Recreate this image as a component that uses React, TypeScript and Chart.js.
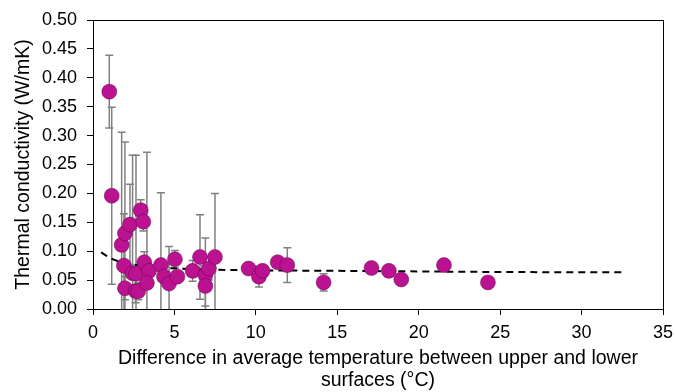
import React, { useEffect, useRef } from "react";
import { Chart, registerables } from "chart.js";

Chart.register(...registerables);

const tempDiff = [1.0, 1.15, 1.76, 1.96, 2.27, 1.9, 1.96, 2.43, 2.64, 2.62, 2.78, 2.93, 3.09, 3.15, 3.44, 3.31, 4.17, 4.36, 4.67, 5.03, 5.18, 6.12, 6.57, 6.9, 6.9, 7.12, 7.49, 9.55, 10.19, 10.41, 11.34, 11.93, 14.16, 17.1, 18.17, 18.93, 21.55, 24.25];
const conductivity = [0.376, 0.196, 0.111, 0.131, 0.146, 0.075, 0.036, 0.062, 0.061, 0.031, 0.031, 0.171, 0.151, 0.081, 0.066, 0.045, 0.076, 0.056, 0.044, 0.086, 0.056, 0.066, 0.09, 0.059, 0.04, 0.07, 0.09, 0.07, 0.056, 0.066, 0.081, 0.076, 0.046, 0.071, 0.066, 0.051, 0.076, 0.046];
const errors = [0.063, 0.153, 0.195, 0.158, 0.07, 0.09, 0.02, 0.204, 0.205, 0.02, 0.015, 0.018, 0.016, 0.018, 0.01, 0.226, 0.125, 0.01, 0.064, 0.015, 0.01, 0.018, 0.073, 0.064, 0.035, 0.02, 0.11, 0, 0.018, 0, 0, 0.03, 0.015, 0, 0, 0, 0, 0];

const trendX = [0.5, 1, 1.5, 2.5, 4, 6, 10, 15, 20, 25, 32.7];
const trendY = [0.098, 0.089, 0.083, 0.077, 0.072, 0.069, 0.067, 0.066, 0.065, 0.064, 0.0635];

const yTicks = [0, 0.05, 0.1, 0.15, 0.2, 0.25, 0.3, 0.35, 0.4, 0.45, 0.5];
const xTicks = [0, 5, 10, 15, 20, 25, 30, 35];

const FONT = "'Liberation Sans', Arial, sans-serif";

const errorBarPlugin = {
  id: "errorBars",
  beforeDatasetsDraw(chart: any) {
    const { ctx, chartArea, scales } = chart;
    const xs = scales.x;
    const ys = scales.y;
    ctx.save();
    ctx.beginPath();
    ctx.rect(chartArea.left, chartArea.top, chartArea.right - chartArea.left, chartArea.bottom - chartArea.top);
    ctx.clip();
    ctx.strokeStyle = "#808080";
    ctx.lineWidth = 1.5;
    for (let i = 0; i < tempDiff.length; i++) {
      const e = errors[i];
      if (!e) continue;
      const px = xs.getPixelForValue(tempDiff[i]);
      const top = ys.getPixelForValue(conductivity[i] + e);
      const bot = ys.getPixelForValue(conductivity[i] - e);
      ctx.beginPath();
      ctx.moveTo(px, top);
      ctx.lineTo(px, bot);
      ctx.moveTo(px - 4, top);
      ctx.lineTo(px + 4, top);
      ctx.moveTo(px - 4, bot);
      ctx.lineTo(px + 4, bot);
      ctx.stroke();
    }
    ctx.restore();
  },
};

const boxPlugin = {
  id: "box",
  afterDraw(chart: any) {
    const { ctx, chartArea } = chart;
    ctx.save();
    ctx.strokeStyle = "#000";
    ctx.lineWidth = 1;
    ctx.strokeRect(Math.round(chartArea.left) + 0.5, Math.round(chartArea.top) + 0.5, Math.round(chartArea.right - chartArea.left), Math.round(chartArea.bottom - chartArea.top));
    ctx.restore();
  },
};

export default function App() {
  const ref = useRef<HTMLCanvasElement>(null);
  useEffect(() => {
    document.body.style.margin = "0";
    const scatter = tempDiff.map((x, i) => ({ x, y: conductivity[i] }));
    const trend = trendX.map((x, i) => ({ x, y: trendY[i] }));
    const chart = new Chart(ref.current as HTMLCanvasElement, {
      type: "scatter",
      data: {
        datasets: [
          {
            type: "scatter",
            data: scatter,
            backgroundColor: "#BA1290",
            borderColor: "rgba(90,0,60,0.55)",
            borderWidth: 0.8,
            pointRadius: 7.5,
            order: 0,
          },
          {
            type: "line",
            data: trend,
            borderColor: "#000",
            borderWidth: 2,
            borderDash: [7, 5],
            pointRadius: 0,
            fill: false,
            cubicInterpolationMode: "monotone",
            order: 1,
          } as any,
        ],
      },
      options: {
        animation: false,
        responsive: false,
        layout: { padding: { left: 9, top: 20, right: 12, bottom: 1 } },
        plugins: { legend: { display: false }, tooltip: { enabled: false } },
        scales: {
          x: {
            type: "linear",
            min: 0,
            max: 35,
            afterBuildTicks: (s: any) => {
              s.ticks = xTicks.map((v) => ({ value: v }));
            },
            afterFit: (s: any) => {
              s.height = 82;
              s.paddingLeft = 0;
              s.paddingRight = 0;
            },
            ticks: { color: "#000", font: { family: FONT, size: 18 }, padding: 7 },
            grid: { drawOnChartArea: false, drawTicks: true, tickLength: 6, color: "#000" },
            border: { color: "#000" },
            title: {
              display: true,
              text: ["Difference in average temperature between upper and lower", "surfaces (°C)"],
              color: "#000",
              font: { family: FONT, size: 19.5, lineHeight: 1.1 },
              padding: { top: 4, bottom: 0 },
            },
          },
          y: {
            type: "linear",
            min: 0,
            max: 0.5,
            afterBuildTicks: (s: any) => {
              s.ticks = yTicks.map((v) => ({ value: v }));
            },
            afterFit: (s: any) => {
              s.width = 84;
              s.paddingTop = 0;
              s.paddingBottom = 0;
            },
            ticks: {
              color: "#000",
              font: { family: FONT, size: 18 },
              padding: 10,
              callback: (v: any) => Number(v).toFixed(2),
            },
            grid: { drawOnChartArea: false, drawTicks: true, tickLength: 6, color: "#000" },
            border: { color: "#000" },
            title: {
              display: true,
              text: "Thermal conductivity (W/mK)",
              color: "#000",
              font: { family: FONT, size: 19.5, lineHeight: 1.1 },
              padding: { top: 4, bottom: 4 },
            },
          },
        },
      },
      plugins: [errorBarPlugin, boxPlugin],
    });
    return () => chart.destroy();
  }, []);
  return (
    <div style={{ width: 675, height: 392 }}>
      <canvas ref={ref} width={675} height={392} style={{ display: "block" }} />
    </div>
  );
}
